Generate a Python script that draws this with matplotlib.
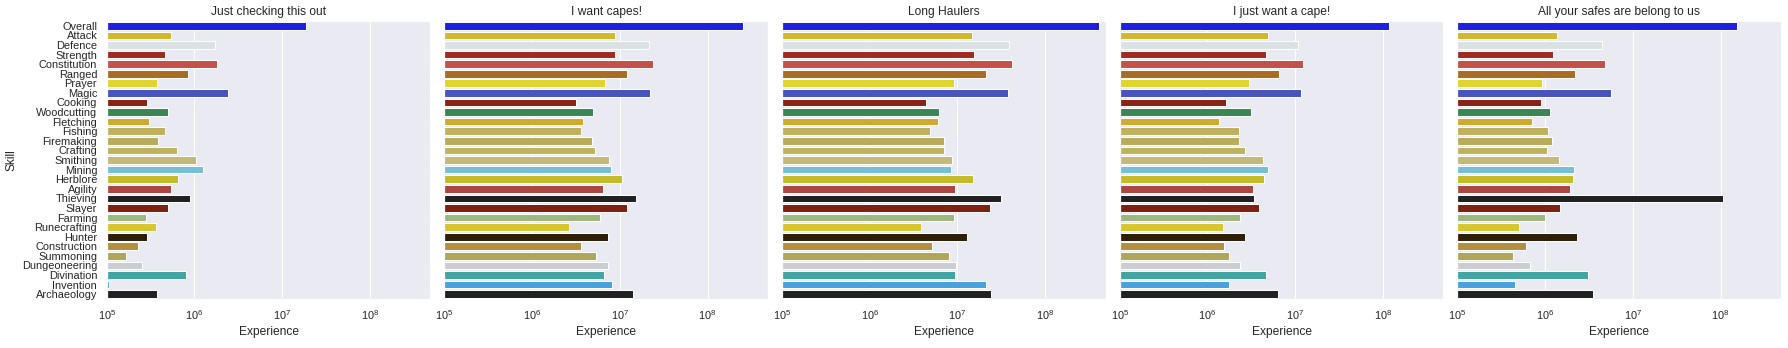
import matplotlib
matplotlib.use("Agg")

import matplotlib.pyplot as plt
import seaborn as sns


SKILLS = [
    "Overall", "Attack", "Defence", "Strength", "Constitution", "Ranged",
    "Prayer", "Magic", "Cooking", "Woodcutting", "Fletching", "Fishing",
    "Firemaking", "Crafting", "Smithing", "Mining", "Herblore", "Agility",
    "Thieving", "Slayer", "Farming", "Runecrafting", "Hunter", "Construction",
    "Summoning", "Dungeoneering", "Divination", "Invention", "Archaeology",
]

SKILL_COLORS = [
    "#2020e0", "#d1b82c", "#dbe2e3", "#a12b20", "#c4524a", "#a86c22",
    "#e0d42e", "#4a54bd", "#8a2216", "#3b8655", "#d0a92e", "#bfb15e",
    "#b8ab5a", "#bdb55e", "#c5b97a", "#75c0d6", "#c3bb28", "#ac4640",
    "#212121", "#7f2010", "#9db77f", "#d6c630", "#2f1f08", "#b38f3e",
    "#afa657", "#cccdd2", "#42a5a2", "#48a2dd", "#222222",
]

PLAYERS = [
    "Just checking this out",
    "I want capes!",
    "Long Haulers",
    "I just want a cape!",
    "All your safes are belong to us",
]

# experience per skill, same order as SKILLS
just_checking = [
    1.85e7, 5.4e5, 1.73e6, 4.6e5, 1.82e6, 8.4e5, 3.7e5, 2.41e6, 2.88e5, 5.0e5,
    3.03e5, 4.6e5, 3.84e5, 6.3e5, 1.04e6, 1.25e6, 6.5e5, 5.4e5, 8.9e5, 5.0e5,
    2.8e5, 3.65e5, 2.88e5, 2.27e5, 1.66e5, 2.53e5, 8.0e5, 1.06e5, 3.7e5,
]
want_capes = [
    2.56e8, 8.8e6, 2.15e7, 8.8e6, 2.39e7, 1.21e7, 6.76e6, 2.21e7, 3.15e6, 4.93e6,
    3.79e6, 3.59e6, 4.8e6, 5.2e6, 7.5e6, 7.9e6, 1.06e7, 6.4e6, 1.53e7, 1.21e7,
    5.9e6, 2.62e6, 7.3e6, 3.59e6, 5.3e6, 7.3e6, 6.6e6, 8.1e6, 1.41e7,
]
long_haulers = [
    4.07e8, 1.46e7, 3.86e7, 1.54e7, 4.17e7, 2.11e7, 9.1e6, 3.76e7, 4.39e6, 6.2e6,
    6.0e6, 4.87e6, 7.0e6, 7.0e6, 8.7e6, 8.4e6, 1.50e7, 9.4e6, 3.13e7, 2.34e7,
    9.1e6, 3.85e6, 1.28e7, 5.1e6, 8.0e6, 9.6e6, 9.4e6, 2.11e7, 2.41e7,
]
want_a_cape = [
    1.18e8, 4.9e6, 1.08e7, 4.65e6, 1.23e7, 6.5e6, 2.97e6, 1.17e7, 1.62e6, 3.13e6,
    1.35e6, 2.29e6, 2.29e6, 2.67e6, 4.3e6, 4.9e6, 4.41e6, 3.3e6, 3.39e6, 3.87e6,
    2.35e6, 1.50e6, 2.67e6, 1.54e6, 1.76e6, 2.35e6, 4.65e6, 1.76e6, 6.4e6,
]
safes = [
    1.55e8, 1.36e6, 4.45e6, 1.23e6, 4.8e6, 2.19e6, 9.2e5, 5.6e6, 8.9e5, 1.13e6,
    7.1e5, 1.08e6, 1.19e6, 1.05e6, 1.44e6, 2.13e6, 2.08e6, 1.92e6, 1.07e8, 1.47e6,
    9.9e5, 5.0e5, 2.31e6, 6.0e5, 4.3e5, 6.7e5, 3.08e6, 4.6e5, 3.51e6,
]


def main():
    sns.set_theme(style="darkgrid")
    plt.rcParams["font.family"] = ["Liberation Sans", "DejaVu Sans"]

    experience = [just_checking, want_capes, long_haulers, want_a_cape, safes]

    fig, axes = plt.subplots(1, 5, figsize=(1788 / 72, 348 / 72), dpi=72,
                             sharex=True, sharey=True)
    fig.subplots_adjust(left=0.0597, right=0.9961, bottom=0.1408, top=0.9397,
                        wspace=0.0432)

    positions = list(range(len(SKILLS)))
    for ax, player, xp in zip(axes, PLAYERS, experience):
        ax.barh(positions, xp, height=0.8, color=SKILL_COLORS,
                edgecolor="white", linewidth=1)
        ax.set_xscale("log")
        ax.set_title(player, fontsize=12)
        ax.set_xlabel("Experience", fontsize=12)
        ax.yaxis.grid(False)
        ax.tick_params(axis="x", labelsize=11)

    axes[0].set_xlim(1e5, 10 ** 8.69)
    axes[0].set_ylim(len(SKILLS) - 0.5, -0.5)
    axes[0].set_yticks(positions)
    axes[0].set_yticklabels(SKILLS, fontsize=11)
    axes[0].set_ylabel("Skill", fontsize=12)

    fig.savefig("out.png", dpi=72)


if __name__ == "__main__":
    main()
